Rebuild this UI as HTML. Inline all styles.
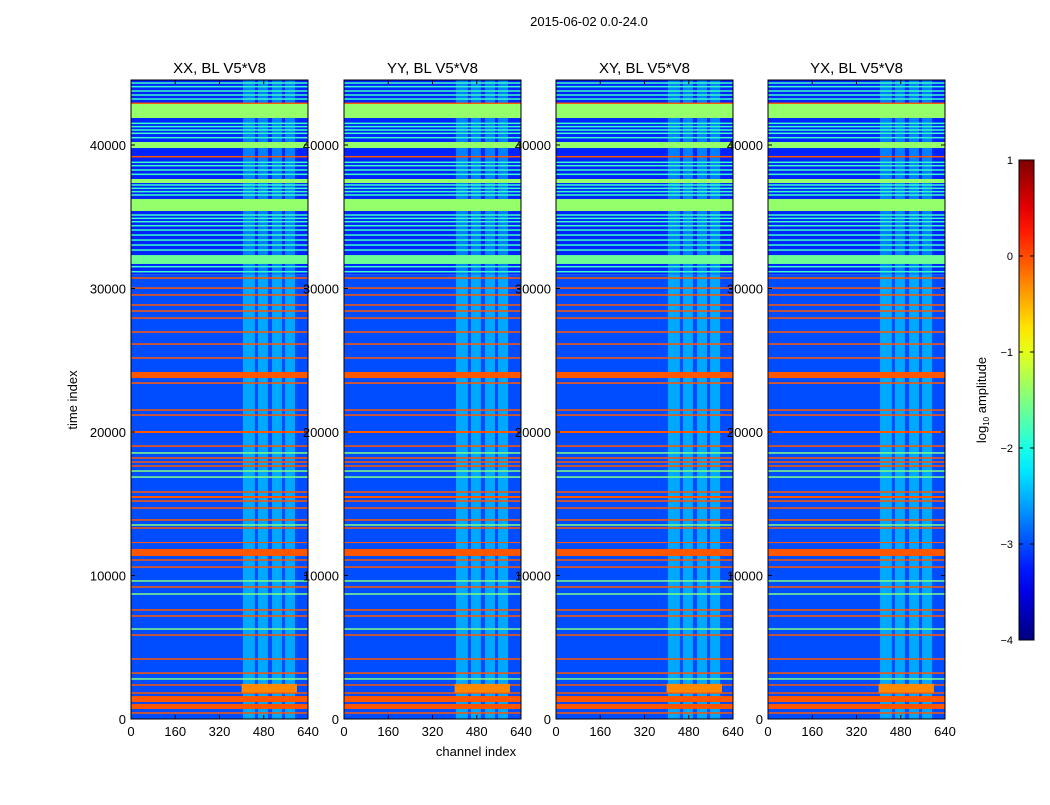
<!DOCTYPE html>
<html><head><meta charset="utf-8"><style>
body{margin:0;background:#fff;width:1050px;height:800px;overflow:hidden;font-family:"Liberation Sans",sans-serif}
svg text{font-family:"Liberation Sans",sans-serif}
</style></head><body>
<svg id="fig" width="1050" height="800" xmlns="http://www.w3.org/2000/svg">
<text x="589" y="26" font-size="13" text-anchor="middle">2015-06-02 0.0-24.0</text>
<text x="0" y="0" font-size="13" text-anchor="middle" transform="translate(77,400) rotate(-90)">time index</text>
<text x="476" y="756" font-size="13" text-anchor="middle">channel index</text>
<g id="panels"></g>
<g id="cbar"></g>
</svg>
<script>
const panelTitles = ["XX, BL V5*V8","YY, BL V5*V8","XY, BL V5*V8","YX, BL V5*V8"];
const xTicks = [0,160,320,480,640];
const yTicks = [0,10000,20000,30000,40000];
const cbTicks = [1,0,-1,-2,-3,-4];
const sectionStarts = [0,31000];
const sectionEnds = [31000,44530];
const sectionValues = [-3.0,-3.2];
const columnValues = [-2.55,-2.75];
const colStarts = [405,459,510,557];
const colEnds = [448,495,546,593];
const bandStarts = [41880,39790,37350,35400,31710,23760,19930,15400,12260,11360,1180,700,1850];
const bandEnds   = [42860,40210,37630,36240,32330,24180,20070,15540,12330,11850,1600,1050,2450];
const bandValues = [-1.4,-1.4,-1.4,-1.4,-1.6,-0.05,-0.05,-0.05,-0.05,-0.05,-0.05,-0.05,-0.3];
const bandChStart = [0,0,0,0,0,0,0,0,0,0,0,0,400];
const bandChEnd = [640,640,640,640,640,640,640,640,640,640,640,640,600];
const orangeLines = [42904,39186,30730,30030,29550,28850,28430,27940,26970,26130,25160,23410,21530,21180,19020,18190,17910,17630,15820,15190,14700,13870,13310,11080,10590,9200,7600,7180,5850,4180,3200,2370,1810,420];
const greenLines = [18540,17280,16860,13520,9620,8710,6270,2790];
const lightLines = [44320,44066,43762,43484,43205,41510,41280,41045,40815,40510,38793,38560,38258,37957,37214,36982,36750,36516,35120,34890,34655,34376,34075,33726,33377,33030,32680,31520,31170];
const panelLeft = [131,344,556,768];

const NS="http://www.w3.org/2000/svg";
function jet(v){const f=Math.max(0,Math.min(1,(v+4)/5));const c=x=>Math.round(255*Math.max(0,Math.min(1,1.5-Math.abs(4*f-x))));return `rgb(${c(3)},${c(2)},${c(1)})`;}
function mk(tag,attrs,parent){const e=document.createElementNS(NS,tag);for(const k in attrs)e.setAttribute(k,attrs[k]);parent.appendChild(e);return e;}
const pTop=80,pBot=719,W=177,tMax=44530;
const yS=t=>pBot-(t/tMax)*(pBot-pTop);
const panels=document.getElementById('panels');
panelTitles.forEach((title,p)=>{
  const L=panelLeft[p];const xS=c=>L+c/640*W;
  const g=mk('g',{},panels);
  
  
  sectionStarts.forEach((s,i)=>{
    const r=mk('rect',{x:L,y:yS(sectionEnds[i]),width:W,height:yS(s)-yS(sectionEnds[i]),fill:jet(sectionValues[i])},g);
    
    
    colStarts.forEach((c,j)=>{
      const cr=mk('rect',{x:xS(c),y:yS(sectionEnds[i]),width:xS(colEnds[j])-xS(c),height:yS(s)-yS(sectionEnds[i]),fill:jet(columnValues[i])},g);
      
      
    });
  });
  const line=(t,v,name)=>{const r=mk('rect',{x:L,y:yS(t)-0.75,width:W,height:1.5,fill:jet(v)},g);
    
    };
  lightLines.forEach(t=>line(t,-1.85,'light-line'));
  greenLines.forEach(t=>line(t,-1.5,'green-line'));
  orangeLines.forEach(t=>line(t,-0.05,'orange-line'));
  bandStarts.forEach((s,i)=>{
    const r=mk('rect',{x:xS(bandChStart[i]),y:yS(bandEnds[i]),width:xS(bandChEnd[i])-xS(bandChStart[i]),height:yS(s)-yS(bandEnds[i]),fill:jet(bandValues[i])},g);
    
    
  });
  mk('rect',{x:L,y:pTop,width:W,height:pBot-pTop,fill:'none',stroke:'#000','stroke-width':1},g);
  xTicks.forEach(c=>{
    mk('line',{x1:xS(c),x2:xS(c),y1:pBot,y2:pBot-4,stroke:'#000'},g);
    mk('line',{x1:xS(c),x2:xS(c),y1:pTop,y2:pTop+4,stroke:'#000'},g);
    const tx=mk('text',{x:xS(c),y:pBot+17,'font-size':13,'text-anchor':'middle'},g);tx.textContent=c;
    
    
  });
  yTicks.forEach(t=>{
    mk('line',{x1:L,x2:L+4,y1:yS(t),y2:yS(t),stroke:'#000'},g);
    mk('line',{x1:L+W,x2:L+W-4,y1:yS(t),y2:yS(t),stroke:'#000'},g);
    const tx=mk('text',{x:L-5,y:yS(t)+5,'font-size':13,'text-anchor':'end'},g);tx.textContent=t;
    
    
  });
  const tt=mk('text',{x:L+W/2,y:73,'font-size':15,'text-anchor':'middle'},g);tt.textContent=title;
  
  
});
const cb=document.getElementById('cbar');
const cbTop=160,cbBot=640,cbX=1019,cbW=15;
const defs=mk('defs',{},cb);const gr=mk('linearGradient',{id:'jetg',x1:0,y1:1,x2:0,y2:0},defs);
for(let i=0;i<=20;i++){mk('stop',{offset:i/20,'stop-color':jet(-4+5*i/20)},gr);}
mk('rect',{x:cbX,y:cbTop,width:cbW,height:cbBot-cbTop,fill:'url(#jetg)',stroke:'#000'},cb);
const cbY=v=>cbBot-(v+4)/5*(cbBot-cbTop);
cbTicks.forEach(v=>{
  mk('line',{x1:cbX,x2:cbX+4,y1:cbY(v),y2:cbY(v),stroke:'#000'},cb);
  mk('line',{x1:cbX+cbW,x2:cbX+cbW-4,y1:cbY(v),y2:cbY(v),stroke:'#000'},cb);
  const tx=mk('text',{x:1013,y:cbY(v)+4,'font-size':11,'text-anchor':'end'},cb);tx.textContent=v<0?'\u2212'+(-v):v;
  
  
});
const cl=mk('text',{'font-size':13,'text-anchor':'middle',transform:'translate(986,400) rotate(-90)'},cb);


cl.innerHTML='log<tspan font-size="8" dy="3">10</tspan><tspan dy="-3"> amplitude</tspan>';
</script>
</body></html>
